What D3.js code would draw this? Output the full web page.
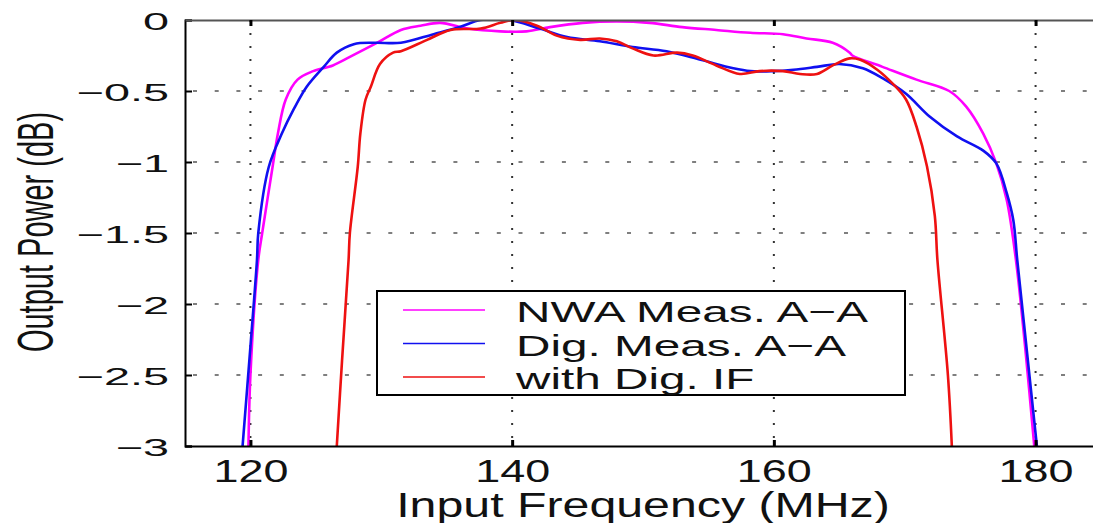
<!DOCTYPE html>
<html>
<head>
<meta charset="utf-8">
<script src="https://cdnjs.cloudflare.com/ajax/libs/d3/7.8.5/d3.min.js"></script>
<style>
  body { margin: 0; background: #fff; }
  svg { display: block; }
  text { font-family: "Liberation Sans", Arial, Helvetica, sans-serif; fill: #111; }
</style>
</head>
<body>
<svg id="chart"></svg>
<script>
var width = 1093,
    height = 523,
    margin = {
        top: 20,
        left: 185
    }

// x axis goes to 185 MHz, right border falls just outside the picture
var xDomain = [115, 185],
    yDomain = [-3, 0]
var xTicks = [120, 140, 160, 180]
var yTicks = [0, -0.5, -1, -1.5, -2, -2.5, -3]
var yTickLabels = ["0", "\u22120.5", "\u22121", "\u22121.5", "\u22122", "\u22122.5", "\u22123"]

var seriesNames = ["NWA Meas. A\u2212A", "Dig. Meas. A\u2212A", "with Dig. IF"]
var seriesColors = ["#ff00ff", "#1010f0", "#ee1111"]

// NWA measurement (magenta)
var nwaFreq = [119.85, 120.0, 120.6, 120.9, 121.7, 122.1, 122.7, 123.6, 124.8, 126.3, 127.6, 129.7, 131.5, 133.0, 134.5,
    136.6, 139.1, 141.1, 142.9, 145.4, 148.0, 150.5, 153.0, 155.6, 158.2, 160.7, 162.5, 164.5, 165.8, 166.0, 168.3,
    170.9, 173.4, 174.7, 176.0, 177.0, 177.8, 178.5, 179.2, 179.9]
var nwaDb = [-3.0, -2.5, -1.69, -1.5, -1.03, -0.8, -0.56, -0.42, -0.36, -0.32, -0.26, -0.16, -0.07, -0.04, -0.02,
    -0.06, -0.08, -0.08, -0.05, -0.02, -0.01, -0.02, -0.05, -0.07, -0.09, -0.1, -0.13, -0.16, -0.23, -0.25, -0.33,
    -0.42, -0.5, -0.61, -0.8, -1.01, -1.27, -1.69, -2.3, -3.0]

// digital measurement (blue)
var digFreq = [119.4, 120.0, 120.5, 120.6, 121.4, 122.4, 123.3, 124.3, 125.6, 126.6, 127.9, 129.5, 131.5, 134.0, 136.0,
    137.6, 139.8, 142.1, 144.2, 146.7, 149.2, 151.8, 154.4, 156.9, 158.2, 159.9, 161.5, 163.3, 165.0, 166.8, 168.3,
    170.1, 171.9, 174.0, 176.0, 177.0, 177.8, 178.3, 178.6, 179.3, 180.1]
var digDb = [-3.0, -2.3, -1.69, -1.5, -1.035, -0.8, -0.63, -0.47, -0.33, -0.23, -0.17, -0.16, -0.16, -0.1, -0.05,
    0, 0, -0.06, -0.12, -0.15, -0.19, -0.22, -0.28, -0.34, -0.36, -0.36, -0.35, -0.33, -0.31, -0.34, -0.41,
    -0.52, -0.68, -0.82, -0.92, -1.01, -1.22, -1.41, -1.69, -2.3, -3.0]

// with digital IF (red)
var ifFreq = [126.6, 127.0, 127.5, 127.6, 128.2, 128.4, 128.8, 129.2, 129.9, 130.9, 131.5, 133.5, 135.3, 137.6, 139.1,
    140.2, 141.9, 143.4, 145.2, 146.7, 148.0, 149.2, 150.8, 152.6, 153.8, 155.6, 157.4, 158.9, 160.7, 162.0, 163.3,
    164.5, 165.8, 166.6, 167.9, 169.1, 170.1, 170.9, 171.7, 172.3, 172.5, 173.3, 173.6]
var ifDb = [-3.0, -2.4, -1.69, -1.5, -1.035, -0.8, -0.56, -0.47, -0.31, -0.23, -0.22, -0.14, -0.07, -0.06, -0.02,
    0, -0.04, -0.11, -0.14, -0.13, -0.15, -0.2, -0.25, -0.23, -0.25, -0.32, -0.38, -0.36, -0.36, -0.38, -0.38,
    -0.32, -0.27, -0.28, -0.35, -0.45, -0.56, -0.75, -1.03, -1.38, -1.69, -2.5, -3.0]

var series = [
    d3.zip(nwaFreq, nwaDb),
    d3.zip(digFreq, digDb),
    d3.zip(ifFreq, ifDb)
]

var xScale = d3.scaleLinear().domain(xDomain).range([margin.left, 1101])
var yScale = d3.scaleLinear().domain(yDomain).range([446, margin.top])

var canvas = d3.select("#chart")
    .attr("width", width)
    .attr("height", height)

canvas.append("clipPath").attr("id", "plotClip")
    .append("rect")
    .attr("x", xScale(xDomain[0]))
    .attr("y", yScale(0))
    .attr("width", xScale(xDomain[1]) - xScale(xDomain[0]))
    .attr("height", yScale(-3) - yScale(0))

// dotted grid
var grid = canvas.append("g").attr("class", "grid")
grid.selectAll(".vgrid")
    .data(xTicks)
    .enter()
    .append("line")
    .attr("x1", d => xScale(d)).attr("x2", d => xScale(d))
    .attr("y1", yScale(0)).attr("y2", yScale(-3))
    .attr("stroke", "#333")
    .attr("stroke-width", 2)
    .attr("stroke-dasharray", "2,11")
grid.selectAll(".hgrid")
    .data(yTicks.slice(1, -1))
    .enter()
    .append("line")
    .attr("x1", xScale(xDomain[0])).attr("x2", xScale(xDomain[1]))
    .attr("y1", d => yScale(d)).attr("y2", d => yScale(d))
    .attr("stroke", "#555")
    .attr("stroke-width", 1.6)
    .attr("stroke-dasharray", "4,17.7")
    .attr("stroke-dashoffset", -8)

// curves
var line = d3.line()
    .x(d => xScale(d[0]))
    .y(d => yScale(d[1]))
    .curve(d3.curveCatmullRom.alpha(0.5))

canvas.append("g")
    .attr("clip-path", "url(#plotClip)")
    .selectAll("path")
    .data(series)
    .enter()
    .append("path")
    .attr("d", line)
    .attr("fill", "none")
    .attr("stroke", (d, i) => seriesColors[i])
    .attr("stroke-width", 2.6)
    .attr("stroke-linejoin", "round")

// axes (ticks point inward like matlab)
var ySx = 1.95
var yAxis = canvas.append("g")
    .attr("transform", "translate(" + margin.left + ",0)")
    .call(d3.axisLeft(yScale).tickValues(yTicks).tickSize(-7).tickPadding(0)
        .tickFormat((d, i) => yTickLabels[i]))
yAxis.selectAll("text")
    .attr("x", -16 / ySx)
    .attr("dy", "0.4em")
    .attr("transform", "scale(" + ySx + ",1)")
    .style("font-size", "24px")
    .style("fill", "#111")

var xSx = 1.45
var xAxis = canvas.append("g")
    .attr("transform", "translate(0," + yScale(-3) + ")")
    .call(d3.axisBottom(xScale).tickValues(xTicks).tickSize(-6).tickSizeOuter(0))
xAxis.selectAll("text")
    .attr("y", 36)
    .attr("dy", null)
    .attr("transform", "scale(" + xSx + ",1)")
    .style("font-size", "31px")
    .style("fill", "#111")

var topAxis = canvas.append("g")
    .attr("transform", "translate(0," + yScale(0) + ")")
    .call(d3.axisTop(xScale).tickValues(xTicks).tickSize(-6).tickSizeOuter(0).tickFormat(""))

canvas.selectAll(".domain").attr("stroke", "#000").attr("stroke-width", 2)
canvas.selectAll(".tick line").attr("stroke", "#000").attr("stroke-width", 3)
topAxis.select(".domain").attr("stroke", "#555")
xAxis.selectAll(".tick line").attr("stroke-width", 3)
yAxis.selectAll(".tick line").attr("stroke-width", 2)

// axis titles
canvas.append("text")
    .attr("text-anchor", "middle")
    .attr("transform", "translate(643,517) scale(1.38,1)")
    .style("font-size", "35px")
    .text("Input Frequency (MHz)")

canvas.append("text")
    .attr("text-anchor", "middle")
    .attr("transform", "translate(53,232) scale(1.7,1) rotate(-90)")
    .style("font-size", "29px")
    .text("Output Power (dB)")

// legend
var legend = canvas.append("g").attr("class", "legend")
legend.append("rect")
    .attr("x", 377).attr("y", 291)
    .attr("width", 528).attr("height", 104)
    .attr("fill", "#fff")
    .attr("stroke", "#000")
    .attr("stroke-width", 2)
var rows = legend.selectAll(".row")
    .data(seriesNames)
    .enter()
    .append("g")
    .attr("transform", (d, i) => "translate(0," + (310 + i * 33.5) + ")")
rows.append("line")
    .attr("x1", 403).attr("x2", 485)
    .attr("stroke", (d, i) => seriesColors[i])
    .attr("stroke-width", 1.6)
rows.append("text")
    .attr("transform", "translate(516,12) scale(1.59,1)")
    .style("font-size", "30px")
    .text(d => d)
</script>
</body>
</html>
